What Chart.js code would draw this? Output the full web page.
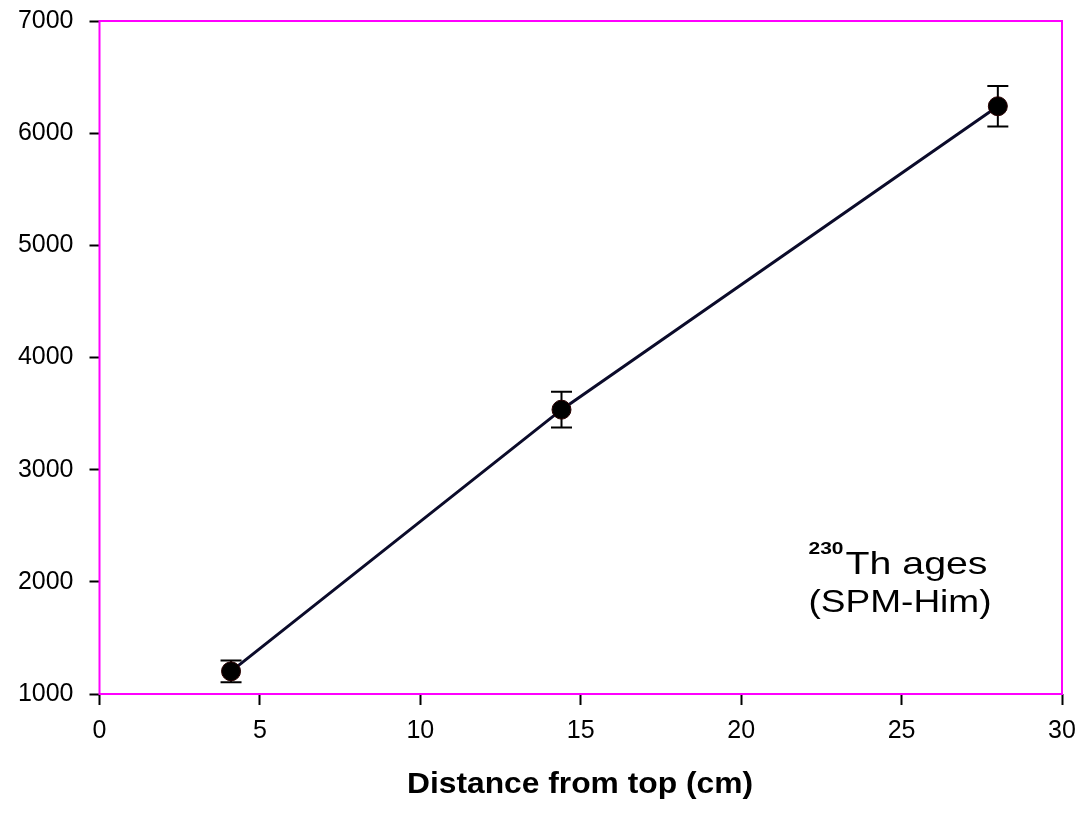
<!DOCTYPE html>
<html>
<head>
<meta charset="utf-8">
<script src="https://cdn.jsdelivr.net/npm/chart.js@4.4.1/dist/chart.umd.min.js"></script>
<style>
  html, body { margin: 0; padding: 0; background: #fff; }
  #wrap { width: 1084px; height: 814px; }
</style>
</head>
<body>
<div id="wrap"><canvas id="c" width="1084" height="814"></canvas></div>
<script>
// ---- data ----
const depthCm = [4.1, 14.4, 28.0];
const ageYears = [1202, 3535, 6240];
const ageError = [97, 160, 181];
const xTickValues = [0, 5, 10, 15, 20, 25, 30];
const yTickValues = [1000, 2000, 3000, 4000, 5000, 6000, 7000];
const xAxisTitle = 'Distance from top (cm)';
const noteSup = '230';
const noteLine1 = 'Th ages';
const noteLine2 = '(SPM-Him)';

const FONT = '"Liberation Sans", Arial, Helvetica, sans-serif';

const points = depthCm.map((x, i) => ({ x: x, y: ageYears[i] }));

const framePlugin = {
  id: 'frame',
  beforeDatasetsDraw(chart) {
    const { ctx, chartArea: a } = chart;
    ctx.save();
    ctx.strokeStyle = '#ff00ff';
    ctx.lineWidth = 2;
    ctx.strokeRect(a.left, a.top, a.right - a.left, a.bottom - a.top);
    ctx.restore();
  }
};

const errorBarPlugin = {
  id: 'errorBars',
  beforeDatasetsDraw(chart) {
    const { ctx } = chart;
    const xs = chart.scales.x, ys = chart.scales.y;
    ctx.save();
    ctx.strokeStyle = '#000';
    ctx.lineWidth = 2;
    depthCm.forEach((d, i) => {
      const px = xs.getPixelForValue(d);
      const yTop = ys.getPixelForValue(ageYears[i] + ageError[i]);
      const yBot = ys.getPixelForValue(ageYears[i] - ageError[i]);
      const cap = 10.5;
      ctx.beginPath();
      ctx.moveTo(px, yTop); ctx.lineTo(px, yBot);
      ctx.moveTo(px - cap, yTop); ctx.lineTo(px + cap, yTop);
      ctx.moveTo(px - cap, yBot); ctx.lineTo(px + cap, yBot);
      ctx.stroke();
    });
    ctx.restore();
  }
};

function drawStretched(ctx, text, x, y, font, targetWidth) {
  ctx.font = font;
  const w = ctx.measureText(text).width;
  const sx = targetWidth ? targetWidth / w : 1;
  ctx.save();
  ctx.translate(x, y);
  ctx.scale(sx, 1);
  ctx.fillText(text, 0, 0);
  ctx.restore();
  return w * sx;
}

const textPlugin = {
  id: 'texts',
  afterDraw(chart) {
    const { ctx, chartArea: a } = chart;
    ctx.save();
    ctx.fillStyle = '#000';
    ctx.textBaseline = 'alphabetic';
    ctx.textAlign = 'left';
    // x axis title
    drawStretched(ctx, xAxisTitle, 407, a.bottom + 99, 'bold 29px ' + FONT, 346);
    // annotation
    const nx = a.left + 709;
    drawStretched(ctx, noteSup, nx, a.top + 533, 'bold 17px ' + FONT, 35);
    drawStretched(ctx, noteLine1, nx + 37, a.top + 553, '32px ' + FONT, 142);
    drawStretched(ctx, noteLine2, nx, a.top + 591, '32px ' + FONT, 183);
    ctx.restore();
  }
};

new Chart(document.getElementById('c'), {
  type: 'scatter',
  data: {
    datasets: [{
      data: points,
      showLine: true,
      borderColor: '#0b0b2a',
      borderWidth: 3,
      pointRadius: 9.5,
      pointHoverRadius: 9.5,
      pointBackgroundColor: '#000',
      pointBorderColor: '#2a0000',
      pointBorderWidth: 1,
      tension: 0
    }]
  },
  options: {
    responsive: false,
    animation: false,
    events: [],
    layout: { padding: { top: 21, right: 22, left: 0, bottom: 0 } },
    plugins: { legend: { display: false }, tooltip: { enabled: false } },
    scales: {
      x: {
        type: 'linear',
        min: 0, max: 30,
        afterBuildTicks: (s) => { s.ticks = xTickValues.map(v => ({ value: v })); },
        afterFit: (s) => { s.height = 120; s.paddingLeft = 0; s.paddingRight = 0; },
        border: { display: false },
        grid: { drawOnChartArea: false, drawTicks: true, tickLength: 11, tickColor: '#000', tickWidth: 2 },
        ticks: { color: '#000', font: { family: FONT, size: 25 }, padding: 11, maxRotation: 0,
                 callback: (v) => String(v) }
      },
      y: {
        type: 'linear',
        min: 1000, max: 7000,
        afterBuildTicks: (s) => { s.ticks = yTickValues.map(v => ({ value: v })); },
        afterFit: (s) => { s.width = 99.5; s.paddingTop = 0; s.paddingBottom = 0; },
        border: { display: false },
        grid: { drawOnChartArea: false, drawTicks: true, tickLength: 10, tickColor: '#000', tickWidth: 2 },
        ticks: { color: '#000', font: { family: FONT, size: 25 }, padding: 16,
                 callback: (v) => String(v) }
      }
    }
  },
  plugins: [framePlugin, errorBarPlugin, textPlugin]
});
</script>
</body>
</html>
